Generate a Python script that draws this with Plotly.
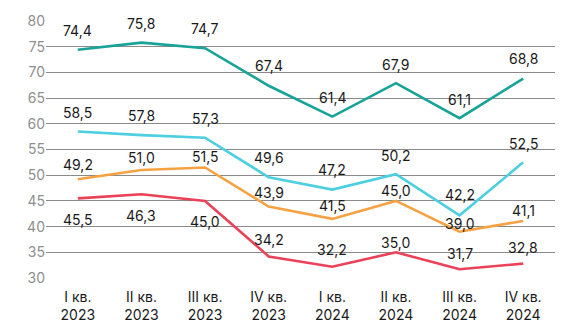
import plotly.graph_objects as go

categories = ["I кв.<br>2023", "II кв.<br>2023", "III кв.<br>2023", "IV кв.<br>2023",
              "I кв.<br>2024", "II кв.<br>2024", "III кв.<br>2024", "IV кв.<br>2024"]
teal = [74.4, 75.8, 74.7, 67.4, 61.4, 67.9, 61.1, 68.8]
cyan = [58.5, 57.8, 57.3, 49.6, 47.2, 50.2, 42.2, 52.5]
orange = [49.2, 51.0, 51.5, 43.9, 41.5, 45.0, 39.0, 41.1]
red = [45.5, 46.3, 45.0, 34.2, 32.2, 35.0, 31.7, 32.8]
y_ticks = [30, 35, 40, 45, 50, 55, 60, 65, 70, 75, 80]

# label offsets (style, px)
label_shift = {
    "teal": [19, 19, 20, 20, 19, 19, 19, 20],
    "cyan": [19, 20, 19, 20, 20, 19, 21, 19],
    "orange": [15, 13, 11, 14, 13, 10, 8, 10],
    "red": [-21, -21, -21, 17, 17, 10, 16, 16],
}
colors = {"teal": "#17a398", "cyan": "#4ccfe0", "orange": "#f6a243", "red": "#ea4258"}
series = {"teal": teal, "cyan": cyan, "orange": orange, "red": red}

FONT = "Inter"
fig = go.Figure()
annotations = []
for name in ["teal", "cyan", "orange", "red"]:
    vals = series[name]
    fig.add_trace(go.Scatter(x=list(range(len(categories))), y=vals, mode="lines",
                             line=dict(color=colors[name], width=2.6), hoverinfo="skip",
                             showlegend=False))
    for i, v in enumerate(vals):
        annotations.append(dict(x=i, y=v, xref="x", yref="y", yshift=label_shift[name][i],
                                text=f"{v:.1f}".replace(".", ","), showarrow=False,
                                font=dict(family=FONT, size=14, color="#1a1a1a")))

fig.update_layout(
    width=567, height=335,
    margin=dict(l=46, r=12, t=18, b=57),
    paper_bgcolor="white", plot_bgcolor="white",
    annotations=annotations,
    xaxis=dict(range=[-0.5, 7.5], tickmode="array", tickvals=list(range(len(categories))),
               ticktext=categories, showgrid=False, zeroline=False, showline=False,
               ticks="", tickfont=dict(family=FONT, size=14, color="#1a1a1a"),
               ticklabelstandoff=9),
    yaxis=dict(range=[30, 80], tickvals=y_ticks, showgrid=True, gridcolor="#8a8a8a",
               gridwidth=1, zeroline=False, showline=False, ticks="",
               tickfont=dict(family=FONT, size=14, color="#8f8f8f"), ticklabelstandoff=0),
)
fig.write_html("out.html")
